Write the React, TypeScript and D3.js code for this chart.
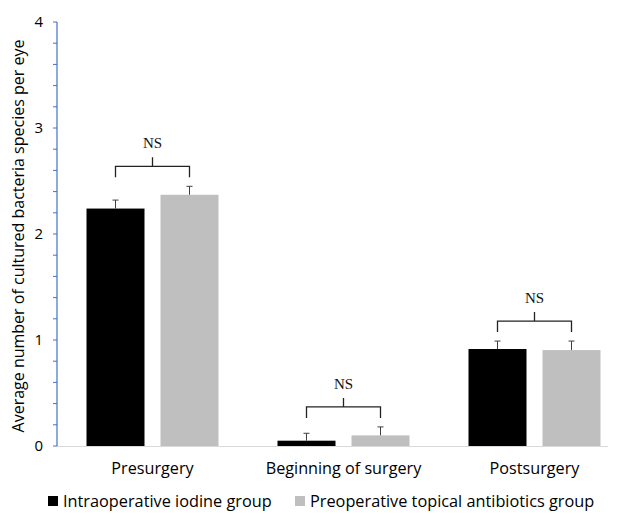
import React from "react";
import * as d3 from "d3";

const categories = ["Presurgery", "Beginning of surgery", "Postsurgery"];
const seriesNames = ["Intraoperative iodine group", "Preoperative topical antibiotics group"];
const iodineValues = [2.24, 0.05, 0.915];
const antibioticValues = [2.37, 0.1, 0.905];
const iodineErrors = [0.08, 0.07, 0.075];
const antibioticErrors = [0.08, 0.08, 0.085];
const significance = ["NS", "NS", "NS"];
const yTicks = [0, 1, 2, 3, 4];
const yTitle = "Average number of cultured bacteria species per eye";

const colors = ["#000000", "#bfbfbf"];

export default function App() {
  const W = 619, H = 514;
  const left = 57, right = 630, top = 22, bottom = 446;
  const x = d3.scaleBand<string>().domain(categories).range([left, right]).paddingInner(0).paddingOuter(0);
  const y = d3.scaleLinear().domain([0, 4]).range([bottom, top]);
  const minor = d3.range(0, 4.0001, 0.2);
  const barW = 58;
  const gap = 16;
  const series = [
    { vals: iodineValues, errs: iodineErrors },
    { vals: antibioticValues, errs: antibioticErrors },
  ];
  const sans = "'Open Sans', 'Liberation Sans', sans-serif";

  return (
    <svg width={W} height={H} style={{ position: "absolute", left: 0, top: 0, background: "#fff" }}>
      {/* x axis */}
      <line x1={left} x2={608} y1={y(0) + 0.5} y2={y(0) + 0.5} stroke="#d9d9d9" strokeWidth={1} />
      {/* bars */}
      {categories.map((c, i) => {
        const cx = x(c)! + x.bandwidth() / 2;
        const bx = [cx - gap / 2 - barW, cx + gap / 2];
        const tops = series.map((s) => y(s.vals[i] + s.errs[i]));
        const bracketY = Math.min(...tops) - 20;
        return (
          <g key={c}>
            {series.map((s, k) => {
              const v = s.vals[i];
              const e = s.errs[i];
              const ex = bx[k] + barW / 2;
              return (
                <g key={k}>
                  <rect x={bx[k]} y={y(v)} width={barW} height={y(0) - y(v)} fill={colors[k]} />
                  <line x1={ex} x2={ex} y1={y(v)} y2={y(v + e)} stroke="#404040" strokeWidth={1} />
                  <line x1={ex - 3} x2={ex + 3} y1={y(v + e)} y2={y(v + e)} stroke="#404040" strokeWidth={1} />
                </g>
              );
            })}
            {/* bracket */}
            <path
              d={`M${bx[0] + barW / 2},${bracketY + 11} V${bracketY} H${bx[1] + barW / 2} V${bracketY + 11} M${cx},${bracketY} V${bracketY - 9}`}
              fill="none"
              stroke="#222"
              strokeWidth={1.3}
            />
            <text x={cx} y={bracketY - 18} textAnchor="middle" fontFamily="'Liberation Serif', 'Times New Roman', serif" fontSize={15} fill="#111">
              {significance[i]}
            </text>
            <text x={cx} y={474} textAnchor="middle" fontFamily={sans} fontSize={16.2} fill="#000">
              {c}
            </text>
          </g>
        );
      })}
      {/* y axis */}
      <line x1={left} x2={left} y1={y(4)} y2={y(0)} stroke="#4472c4" strokeWidth={1.2} />
      {minor.map((t, i) => (
        <line key={i} x1={left - 4} x2={left} y1={y(t)} y2={y(t)} stroke="#4472c4" strokeWidth={1} />
      ))}
      {yTicks.map((t) => (
        <text key={t} x={43} y={y(t) + 5} textAnchor="end" fontFamily={sans} fontSize={15} fill="#000">
          {t}
        </text>
      ))}
      <text
        transform={`translate(24,${(y(0) + y(4)) / 2 + 2}) rotate(-90)`}
        textAnchor="middle"
        fontFamily={sans}
        fontSize={16}
        fill="#000"
      >
        {yTitle}
      </text>
      {/* legend */}
      {seriesNames.map((n, k) => {
        const lx = [48, 295][k];
        return (
          <g key={n}>
            <rect x={lx} y={496} width={10} height={10} fill={colors[k]} />
            <text x={lx + 15} y={507} fontFamily={sans} fontSize={16.3} fill="#000">
              {n}
            </text>
          </g>
        );
      })}
    </svg>
  );
}
